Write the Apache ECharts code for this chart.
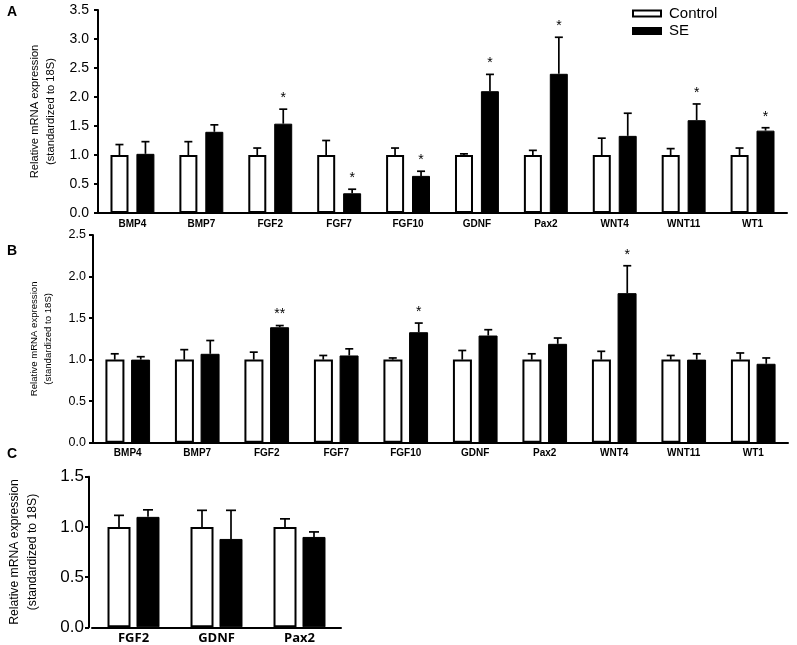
<!DOCTYPE html>
<html><head><meta charset="utf-8">
<script src="https://cdn.jsdelivr.net/npm/echarts@6/dist/echarts.min.js"></script>
<style>html,body{margin:0;padding:0;background:#fff}#c{width:797px;height:645px}</style>
</head><body><div id="c"></div>
<script>
// Panel A
const catsA = ['BMP4','BMP7','FGF2','FGF7','FGF10','GDNF','Pax2','WNT4','WNT11','WT1'];
const ctrlA = [1.0,1.0,1.0,1.0,1.0,1.0,1.0,1.0,1.0,1.0];
const ctrlErrA = [1.18,1.23,1.12,1.25,1.12,1.02,1.08,1.29,1.11,1.12];
const seA = [1.02,1.40,1.54,0.34,0.64,2.10,2.40,1.33,1.60,1.42];
const seErrA = [1.23,1.52,1.79,0.41,0.72,2.39,3.03,1.72,1.88,1.47];
const sigA = ['','','*','*','*','*','*','','*','*'];
const ticksA = {min:0,max:3.5,interval:0.5};
// Panel B
const catsB = ['BMP4','BMP7','FGF2','FGF7','FGF10','GDNF','Pax2','WNT4','WNT11','WT1'];
const ctrlB = [1.0,1.0,1.0,1.0,1.0,1.0,1.0,1.0,1.0,1.0];
const ctrlErrB = [1.07,1.12,1.09,1.05,1.02,1.11,1.07,1.10,1.05,1.08];
const seB = [1.0,1.07,1.39,1.05,1.33,1.29,1.19,1.80,1.0,0.95];
const seErrB = [1.035,1.23,1.41,1.13,1.44,1.36,1.26,2.13,1.07,1.02];
const sigB = ['','','**','','*','','','*','',''];
const ticksB = {min:0,max:2.5,interval:0.5};
// Panel C
const catsC = ['FGF2','GDNF','Pax2'];
const ctrlC = [1.0,1.0,1.0];
const ctrlErrC = [1.115,1.165,1.08];
const seC = [1.10,0.88,0.90];
const seErrC = [1.17,1.165,0.95];
const sigC = ['','',''];
const ticksC = {min:0,max:1.5,interval:0.5};

const NAME = 'Relative mRNA expression\n(standardized to 18S)';
const narrow = '"Liberation Sans Narrow","Liberation Sans",Arial,sans-serif';
const sans = '"Liberation Sans",Arial,sans-serif';

function errSeries(idx, vals, errs, offset, sig, cap) {
  return {
    type:'custom', xAxisIndex:idx, yAxisIndex:idx, z:5, silent:true,
    data: vals.map((v,i)=>[i,v,errs[i]]),
    renderItem: function(params, api){
      const c = api.coord([api.value(0), api.value(1)]);
      const t = api.coord([api.value(0), api.value(2)]);
      const x = c[0] + offset;
      const ch = [
        {type:'line', shape:{x1:x,y1:c[1],x2:x,y2:t[1]}, style:{stroke:'#000',lineWidth:1.7}},
        {type:'line', shape:{x1:x-cap,y1:t[1],x2:x+cap,y2:t[1]}, style:{stroke:'#000',lineWidth:1.7}}
      ];
      const s = sig[params.dataIndex];
      if (s) ch.push({type:'text', style:{text:s, x:x, y:t[1]-4, align:'center', verticalAlign:'bottom', font:'14px "Liberation Sans", Arial', fill:'#000'}});
      return {type:'group', children:ch};
    }
  };
}

function barPair(idx, ctrl, se, bw, gap) {
  return [
    {name:'Control', type:'bar', xAxisIndex:idx, yAxisIndex:idx, data:ctrl, barWidth:bw, barGap:gap,
     itemStyle:{color:'#fff', borderColor:'#000', borderWidth:2}},
    {name:'SE', type:'bar', xAxisIndex:idx, yAxisIndex:idx, data:se, barWidth:bw, barGap:gap,
     itemStyle:{color:'#000', borderColor:'#000', borderWidth:1}}
  ];
}

function yAx(idx, t, fs, margin, nameFs, nameLh, nameGap, off) {
  return {gridIndex:idx, type:'value', min:t.min, max:t.max, interval:t.interval, offset:off||0,
    name:NAME, nameLocation:'middle', nameGap:nameGap,
    nameTextStyle:{fontFamily:narrow, fontSize:nameFs, lineHeight:nameLh, color:'#000'},
    axisLine:{show:true, lineStyle:{color:'#000', width:2}},
    axisTick:{show:true, length:4, lineStyle:{color:'#000', width:2}},
    axisLabel:{color:'#000', fontFamily:sans, fontSize:fs, margin:margin, formatter:v=>v.toFixed(1)},
    splitLine:{show:false}};
}
function xAx(idx, cats, fs, margin, fam) {
  return {gridIndex:idx, type:'category', data:cats,
    axisLine:{show:true, lineStyle:{color:'#000', width:2}},
    axisTick:{show:false},
    axisLabel:{color:'#000', fontFamily:fam, fontWeight:'bold', fontSize:fs, margin:margin, interval:0}};
}

const chart = echarts.init(document.getElementById('c'));
chart.setOption({
  animation:false,
  backgroundColor:'#fff',
  title:[
    {text:'A', left:2, top:0, textStyle:{fontFamily:sans, fontWeight:'bold', fontSize:14, color:'#000'}},
    {text:'B', left:2, top:239, textStyle:{fontFamily:sans, fontWeight:'bold', fontSize:14, color:'#000'}},
    {text:'C', left:2, top:442, textStyle:{fontFamily:sans, fontWeight:'bold', fontSize:14, color:'#000'}}
  ],
  legend:{data:['Control','SE'], left:627, top:1, orient:'vertical', itemWidth:28, itemHeight:6, itemGap:2.5,
    icon:'rect',
    textStyle:{fontFamily:sans, fontSize:15, color:'#000', padding:[0,0,0,3]}},
  grid:[
    {left:98, top:10, width:689, height:203},
    {left:93, top:235, width:695, height:207.7},
    {left:92, top:476.7, width:249, height:150.6}
  ],
  xAxis:[
    xAx(0, catsA, 10, 6, sans),
    xAx(1, catsB, 10, 6, sans),
    xAx(2, catsC, 13, 4, '"Open Sans",sans-serif')
  ],
  yAxis:[
    yAx(0, ticksA, 14, 9, 11.2, 16, 38),
    yAx(1, ticksB, 12.5, 7, 9.6, 14, 38),
    yAx(2, ticksC, 17, 5, 12.2, 18, 47, 3)
  ],
  series:[
    ...barPair(0, ctrlA, seA, 18, '44%'),
    errSeries(0, ctrlA, ctrlErrA, -13, ['','','','','','','','','',''], 4),
    errSeries(0, seA, seErrA, 13, sigA, 4),
    ...barPair(1, ctrlB, seB, 19, '35%'),
    errSeries(1, ctrlB, ctrlErrB, -13, ['','','','','','','','','',''], 4),
    errSeries(1, seB, seErrB, 13, sigB, 4),
    ...barPair(2, ctrlC, seC, 23, '26%'),
    errSeries(2, ctrlC, ctrlErrC, -14.5, sigC, 5),
    errSeries(2, seC, seErrC, 14.5, sigC, 5)
  ]
});
</script></body></html>
